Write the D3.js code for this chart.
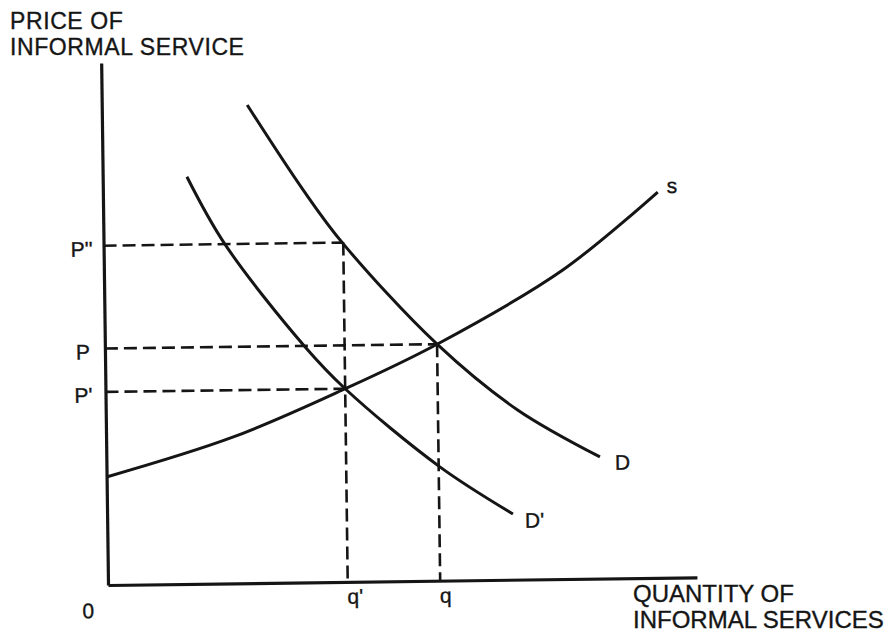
<!DOCTYPE html>
<meta charset="utf-8">
<style>

    body {
        margin: 0;
        background: #fff;
    }

    text {
        font-family: "Liberation Sans", Arial, sans-serif;
        fill: #151515;
        stroke: #151515;
        stroke-width: 0.35px;
    }

    .axis path {
        stroke: #151515;
        stroke-width: 3.2px;
    }

    .axis line {
        display: none;
    }

    .curve {
        fill: none;
        stroke: #151515;
        stroke-width: 3px;
    }

    .guide {
        fill: none;
        stroke: #151515;
        stroke-width: 2.6px;
        stroke-dasharray: 13, 6;
    }

</style>
<svg width="885" height="636"></svg>
<script src="https://d3js.org/d3.v7.min.js"></script>
<script>

// supply curve s
var supplyQ = [0, 21.5, 40.7, 56.4, 77.9, 94.2];
var supplyP = [20.7, 28.0, 37.0, 45.3, 59.2, 73.9];

// demand curve D
var demandQ = [24.7, 34.0, 40.6, 56.4, 69.8, 83.8];
var demandP = [91.6, 75.2, 64.9, 45.3, 32.6, 23.3];

// shifted demand curve D'
var demand2Q = [14.3, 20.6, 34.0, 40.7, 56.6, 68.9];
var demand2P = [78.0, 65.0, 45.1, 37.0, 21.8, 12.6];

// price levels and the quantity each one is read at
var priceLabels = ["P''", "P", "P'"];
var priceValues = [65.0, 45.3, 37.0];
var priceAtQ = [40.7, 56.4, 40.7];

var quantityLabels = ["q'", "q"];
var quantityValues = [40.7, 56.4];

var svg = d3.select("svg");

var x = d3.scaleLinear().domain([0, 100]).range([108, 697]),
    y = d3.scaleLinear().domain([0, 100]).range([585, 63]);

// the scan is a little tilted
var g = svg.append("g")
    .attr("transform", "rotate(-0.75," + x(0) + "," + y(0) + ")");

function zip(qs, ps) {
    return qs.map(function(q, i) { return [q, ps[i]]; });
}

var line = d3.line()
    .x(function(d) { return x(d[0]); })
    .y(function(d) { return y(d[1]); })
    .curve(d3.curveCatmullRom.alpha(0.5));

// dashed guides
priceValues.forEach(function(p, i) {
    g.append("path")
        .attr("class", "guide")
        .attr("d", "M" + x(0) + "," + y(p) + "H" + x(priceAtQ[i]));
});
quantityValues.forEach(function(q) {
    var top = d3.max(priceValues.filter(function(p, i) { return priceAtQ[i] === q; }));
    g.append("path")
        .attr("class", "guide")
        .attr("d", "M" + x(q) + "," + y(top) + "V" + y(0));
});

// axes
var xAxis = g.append("g")
    .attr("class", "axis axis--x")
    .attr("transform", "translate(0," + y(0) + ")")
    .call(d3.axisBottom(x)
        .tickValues(quantityValues)
        .tickFormat(function(d, i) { return quantityLabels[i]; })
        .tickSize(0)
        .tickSizeOuter(0)
        .tickPadding(0));
xAxis.selectAll("text")
    .attr("text-anchor", "start")
    .attr("x", -1)
    .attr("y", 22)
    .attr("dy", null)
    .style("font-size", "21px");

var yAxis = g.append("g")
    .attr("class", "axis axis--y")
    .attr("transform", "translate(" + x(0) + ",0)")
    .call(d3.axisLeft(y)
        .tickValues(priceValues)
        .tickFormat(function(d, i) { return priceLabels[i]; })
        .tickSize(0)
        .tickSizeOuter(0)
        .tickPadding(0));
yAxis.selectAll("text")
    .attr("text-anchor", "middle")
    .attr("x", -22)
    .attr("y", 10)
    .attr("dy", null)
    .style("font-size", "21px");

svg.selectAll(".axis").attr("font-size", null).attr("font-family", null);

// origin label
g.append("text")
    .attr("x", x(0) - 20)
    .attr("y", y(0) + 33)
    .attr("text-anchor", "middle")
    .style("font-size", "21px")
    .text("0");

// curves
var curves = [
    {name: "s", pts: zip(supplyQ, supplyP), dx: 9, dy: 1},
    {name: "D", pts: zip(demandQ, demandP), dx: 15, dy: 13},
    {name: "D'", pts: zip(demand2Q, demand2P), dx: 12, dy: 14}
];

g.selectAll(".curve")
    .data(curves)
    .enter().append("path")
    .attr("class", "curve")
    .attr("d", function(d) { return line(d.pts); });

g.selectAll(".curve-label")
    .data(curves)
    .enter().append("text")
    .attr("class", "curve-label")
    .attr("x", function(d) { return x(d.pts[d.pts.length - 1][0]) + d.dx; })
    .attr("y", function(d) { return y(d.pts[d.pts.length - 1][1]) + d.dy; })
    .style("font-size", "21px")
    .text(function(d) { return d.name; });

// axis titles
var yTitle = svg.append("text")
    .attr("x", 10)
    .attr("y", 29)
    .style("font-size", "23px")
    .style("letter-spacing", "0.6px");
yTitle.append("tspan").text("PRICE OF");
yTitle.append("tspan").attr("x", 10).attr("y", 55).text("INFORMAL SERVICE");

var xTitle = svg.append("text")
    .attr("x", 633)
    .attr("y", 602)
    .style("font-size", "24px");
xTitle.append("tspan").text("QUANTITY OF");
xTitle.append("tspan").attr("x", 633).attr("y", 628).text("INFORMAL SERVICES");

</script>
